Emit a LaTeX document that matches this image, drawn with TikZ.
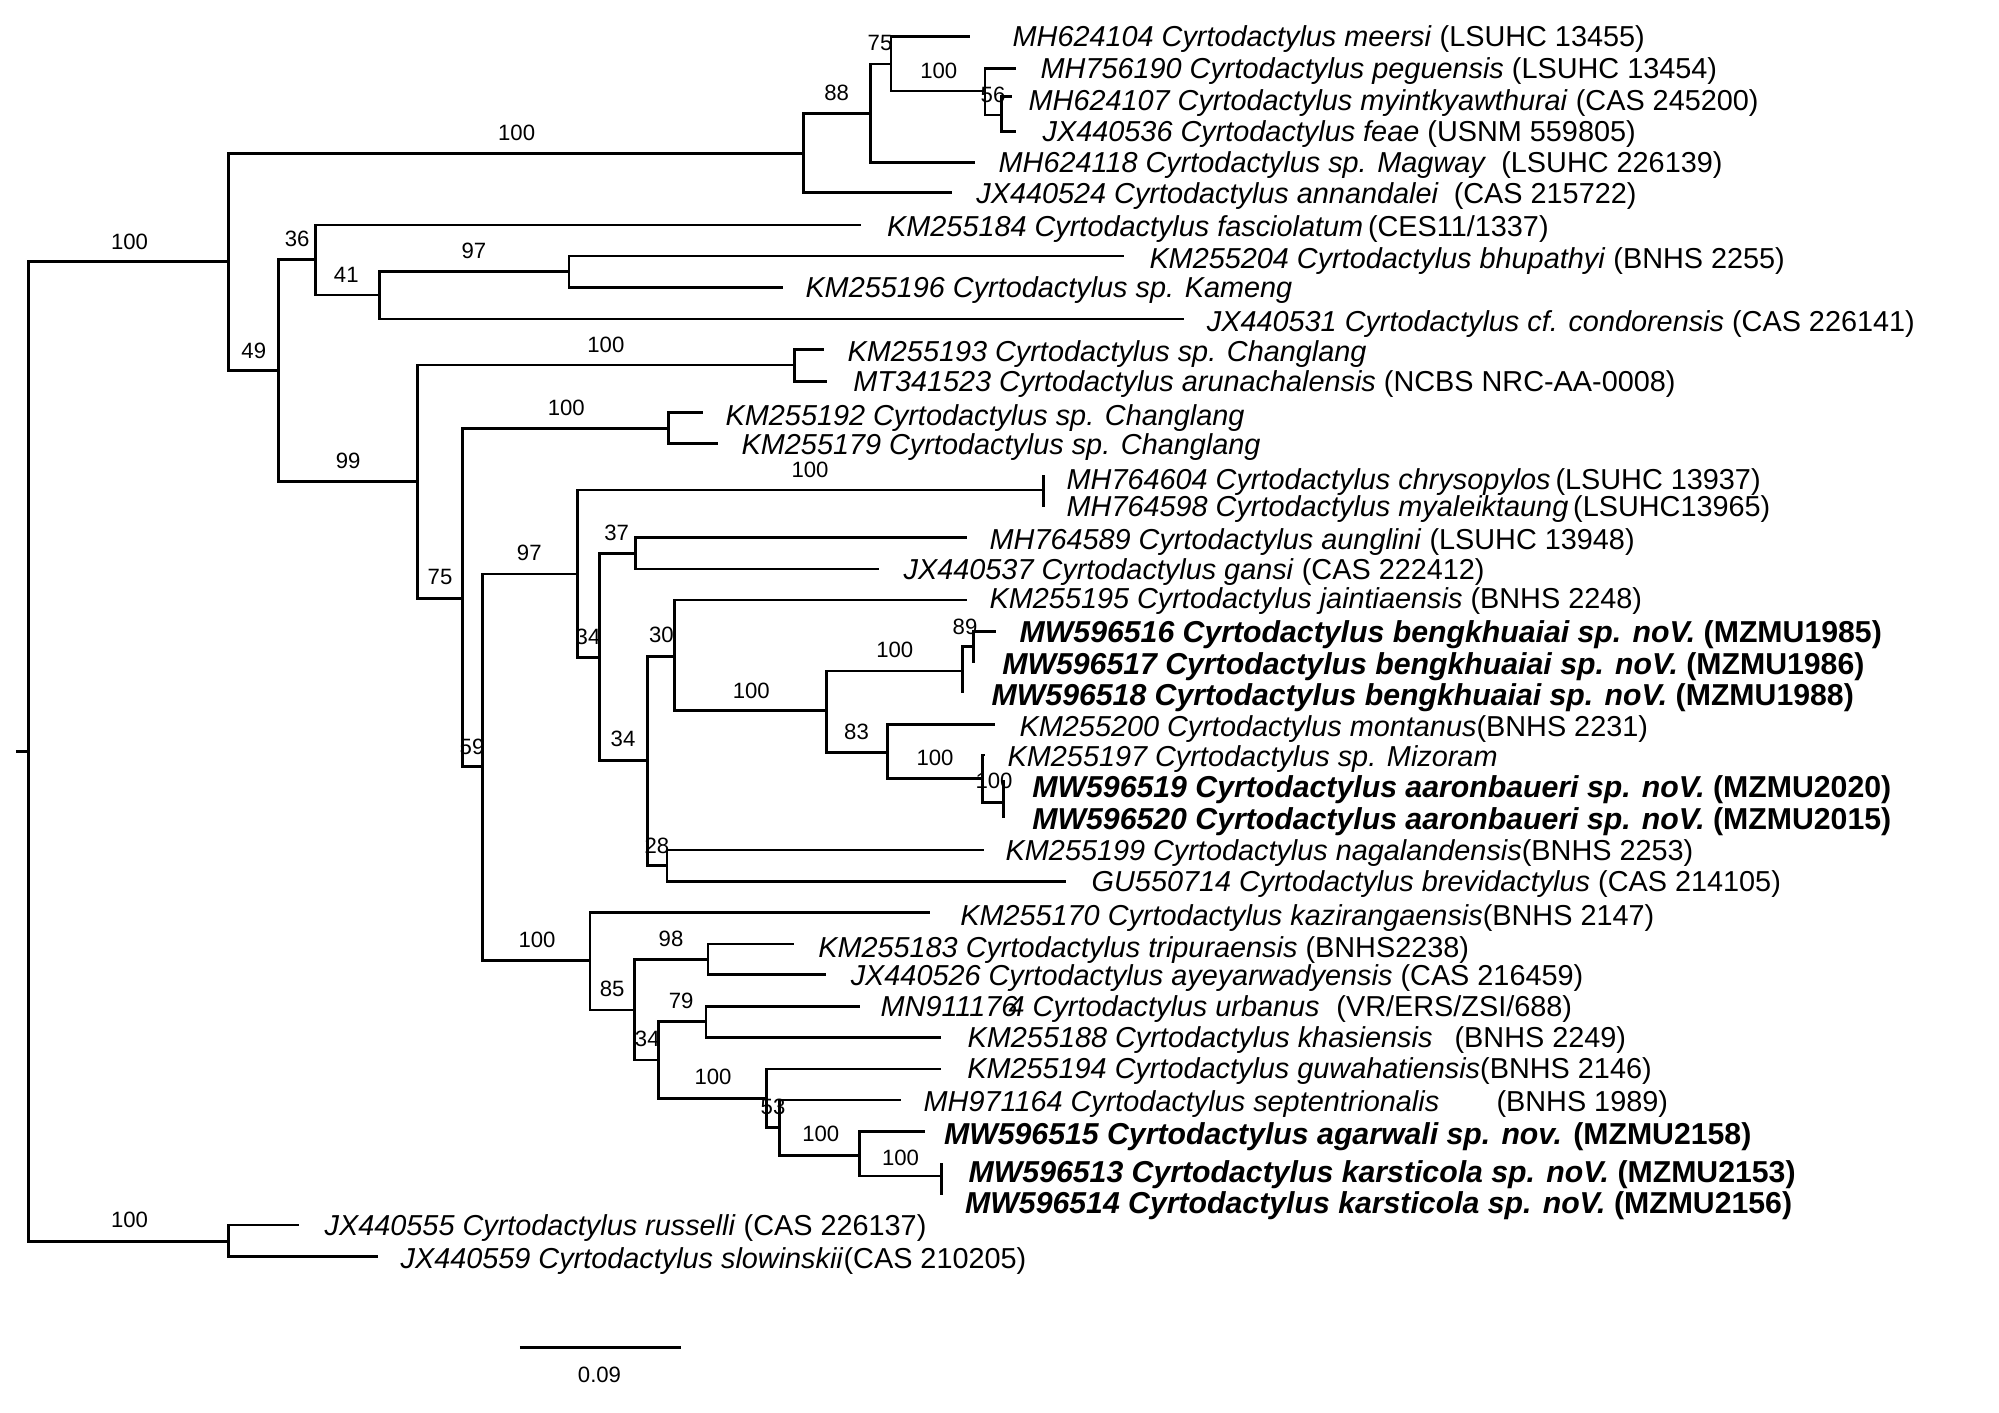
\documentclass[tikz,border=0pt]{standalone}
\usepackage{fontspec}
\setmainfont{Liberation Sans}
\tikzset{
 br/.style={line width=0.75pt},
 lab/.style={anchor=base west, inner sep=0pt, font=\fontsize{8.2}{9}\selectfont},
 blab/.style={anchor=base west, inner sep=0pt, font=\fontsize{8.6}{10}\selectfont\bfseries},
 bs/.style={inner sep=0pt, font=\fontsize{6.3}{7}\selectfont},
}
\newcommand{\spn}[2]{\textit{#1}#2}
\newcommand{\bspn}[2]{\textbf{\textit{#1}}#2}
\begin{document}
\begin{tikzpicture}[x=0.01cm, y=-0.01cm]
\fill[white] (0,0) rectangle (1999,1413);
\useasboundingbox (0,0) rectangle (1999,1413);
% internal nodes
\coordinate (rs) at (16,751.7);
\coordinate (root) at (28.7,751.7);
\coordinate (A) at (228.3,261.7);
\coordinate (OG) at (228.3,1241.7);
\coordinate (B) at (803.6,153.3);
\coordinate (C) at (870.5,113.3);
\coordinate (D) at (891,64);
\coordinate (E) at (985,91);
\coordinate (F) at (1001.6,115);
\coordinate (G) at (278.7,370.7);
\coordinate (H) at (315.7,259.3);
\coordinate (J) at (379.5,295);
\coordinate (K) at (568.9,271.7);
\coordinate (I) at (417.7,481.7);
\coordinate (L) at (794.6,365);
\coordinate (M) at (462.4,598.3);
\coordinate (N) at (668.4,428.3);
\coordinate (O) at (482.8,766.7);
\coordinate (Q) at (577.2,574);
\coordinate (Qa) at (1043.3,490);
\coordinate (R) at (599.5,657.7);
\coordinate (S) at (635.8,553.3);
\coordinate (T) at (647.3,760.7);
\coordinate (U) at (674.7,656.7);
\coordinate (W) at (826.5,710.7);
\coordinate (X) at (962.3,671);
\coordinate (Z) at (973.3,646.7);
\coordinate (Y) at (887.8,752.3);
\coordinate (AA) at (982.3,778.3);
\coordinate (AB) at (1003.3,802.7);
\coordinate (V) at (667,865.3);
\coordinate (P) at (590,960.7);
\coordinate (AC) at (634.6,1010);
\coordinate (AD) at (707.9,959.3);
\coordinate (AE) at (658.2,1060);
\coordinate (AF) at (706,1021.7);
\coordinate (AG) at (766.6,1098.3);
\coordinate (AH) at (779.3,1127.3);
\coordinate (AI) at (859.7,1155.3);
\coordinate (AJ) at (941.7,1176);
% tips
\coordinate (tp1) at (970,36.7);
\coordinate (tp2) at (1015.6,68.3);
\coordinate (tp3) at (1012,96.7);
\coordinate (tp4) at (1015.6,131.7);
\coordinate (tp5) at (974.5,162.3);
\coordinate (tp6) at (951.5,192.7);
\coordinate (tp7) at (861,225);
\coordinate (tp8) at (1124.2,256);
\coordinate (tp9) at (783.2,287.3);
\coordinate (tp10) at (1183.8,319);
\coordinate (tp11) at (824,349.3);
\coordinate (tp12) at (827,381.7);
\coordinate (tp13) at (702.8,412.3);
\coordinate (tp14) at (717.5,443.3);
\coordinate (tp15) at (1043.3,475);
\coordinate (tp16) at (1043.3,506.7);
\coordinate (tp17) at (967.3,537.7);
\coordinate (tp18) at (878.8,569);
\coordinate (tp19) at (966.6,600);
\coordinate (tp20) at (995.7,631.7);
\coordinate (tp21) at (973.3,663.3);
\coordinate (tp22) at (962.3,693.3);
\coordinate (tp23) at (994.6,724.3);
\coordinate (tp24) at (985,755);
\coordinate (tp25) at (1003.3,780);
\coordinate (tp26) at (1003.3,818.3);
\coordinate (tp27) at (983.5,850);
\coordinate (tp28) at (1066,881.7);
\coordinate (tp29) at (929.6,912.7);
\coordinate (tp30) at (794,944);
\coordinate (tp31) at (826,974.3);
\coordinate (tp32) at (859.7,1006.7);
\coordinate (tp33) at (941,1037.3);
\coordinate (tp34) at (940.7,1069);
\coordinate (tp35) at (900.5,1100);
\coordinate (tp36) at (924.7,1131.3);
\coordinate (tp37) at (941.7,1162.7);
\coordinate (tp38) at (941.7,1195);
\coordinate (tp39) at (298.5,1225);
\coordinate (tp40) at (377.6,1256.7);
% branches
\draw[br] (rs) -- (root);
\foreach \p/\c in {root/A, root/OG, A/B, A/G, B/C, B/tp6, C/D, C/tp5, D/tp1, D/E,
  E/tp2, E/F, F/tp3, F/tp4, G/H, G/I, H/tp7, H/J, J/K, J/tp10, K/tp8, K/tp9,
  I/L, I/M, L/tp11, L/tp12, M/N, M/O, N/tp13, N/tp14, O/Q, O/P, Q/Qa, Q/R,
  Qa/tp15, Qa/tp16, R/S, R/T, S/tp17, S/tp18, T/U, T/V, U/tp19, U/W, W/X, W/Y,
  X/Z, X/tp22, Z/tp20, Z/tp21, Y/tp23, Y/AA, AA/tp24, AA/AB, AB/tp25, AB/tp26,
  V/tp27, V/tp28, P/tp29, P/AC, AC/AD, AC/AE, AD/tp30, AD/tp31, AE/AF, AE/AG,
  AF/tp32, AF/tp33, AG/tp34, AG/AH, AH/tp35, AH/AI, AI/tp36, AI/AJ, AJ/tp37,
  AJ/tp38, OG/tp39, OG/tp40}
  \draw[br] (\p) |- (\c);
% support values
\node[bs] (b1) at (129.5,241.7) {100};
\node[bs] (b2) at (516.6,133.3) {100};
\node[bs] (b3) at (836.7,92.7) {88};
\node[bs] (b4) at (880,43.3) {75};
\node[bs] (b5) at (938.8,70.7) {100};
\node[bs] (b6) at (993,95) {56};
\node[bs] (b7) at (129.5,1220) {100};
\node[bs] (b8) at (253.8,350.7) {49};
\node[bs] (b9) at (297.2,239.3) {36};
\node[bs] (b10) at (346.3,275) {41};
\node[bs] (b11) at (473.9,250.7) {97};
\node[bs] (b12) at (348.2,460.7) {99};
\node[bs] (b13) at (605.9,345) {100};
\node[bs] (b14) at (440,577.3) {75};
\node[bs] (b15) at (566.3,408.3) {100};
\node[bs] (b16) at (472,746.7) {59};
\node[bs] (b17) at (529.3,553.3) {97};
\node[bs] (b18) at (810,470) {100};
\node[bs] (b19) at (588,637) {34};
\node[bs] (b20) at (616.7,532.7) {37};
\node[bs] (b21) at (623,739.3) {34};
\node[bs] (b22) at (661.4,635) {30};
\node[bs] (b23) at (751.3,691) {100};
\node[bs] (b24) at (894.8,650) {100};
\node[bs] (b25) at (965,626.7) {89};
\node[bs] (b26) at (856.5,731.7) {83};
\node[bs] (b27) at (935,758.3) {100};
\node[bs] (b28) at (994,781) {100};
\node[bs] (b29) at (656.9,845.7) {28};
\node[bs] (b30) at (537,940) {100};
\node[bs] (b31) at (612.2,989.3) {85};
\node[bs] (b32) at (671,938.7) {98};
\node[bs] (b33) at (647.3,1039.3) {34};
\node[bs] (b34) at (681.1,1001) {79};
\node[bs] (b35) at (713,1077.3) {100};
\node[bs] (b36) at (773,1106.7) {53};
\node[bs] (b37) at (820.8,1134) {100};
\node[bs] (b38) at (900.5,1157.7) {100};
% tip labels
\node[lab] (l1) at (1012,47) {\spn{MH624104 Cyrtodactylus meersi}{ (LSUHC 13455)}};
\node[lab] (l2) at (1040,78.6) {\spn{MH756190 Cyrtodactylus peguensis}{ (LSUHC 13454)}};
\node[lab] (l3) at (1028,110.3) {\spn{MH624107 Cyrtodactylus myintkyawthurai}{ (CAS 245200)}};
\node[lab] (l4) at (1042,142) {\spn{JX440536 Cyrtodactylus feae}{ (USNM 559805)}};
\node[lab] (l5) at (998,172.6) {\spn{MH624118 Cyrtodactylus sp. Magway}{\hspace{2pt} (LSUHC 226139)}};
\node[lab] (l6) at (975.7,203.6) {\spn{JX440524 Cyrtodactylus annandalei}{\hspace{2pt} (CAS 215722)}};
\node[lab] (l7) at (886.5,237) {\spn{KM255184 Cyrtodactylus fasciolatum}{\,(CES11/1337)}};
\node[lab] (l8) at (1148.8,268.6) {\spn{KM255204 Cyrtodactylus bhupathyi}{ (BNHS 2255)}};
\node[lab] (l9) at (804.8,297.6) {\spn{KM255196 Cyrtodactylus sp. Kameng}{}};
\node[lab] (l10) at (1206.2,332) {\spn{JX440531 Cyrtodactylus cf. condorensis}{ (CAS 226141)}};
\node[lab] (l11) at (847,362) {\spn{KM255193 Cyrtodactylus sp. Changlang}{}};
\node[lab] (l12) at (852.7,392) {\spn{MT341523 Cyrtodactylus arunachalensis}{ (NCBS NRC-AA-0008)}};
\node[lab] (l13) at (725,425.3) {\spn{KM255192 Cyrtodactylus sp. Changlang}{}};
\node[lab] (l14) at (741,454.3) {\spn{KM255179 Cyrtodactylus sp. Changlang}{}};
\node[lab] (l15) at (1066,489.3) {\spn{MH764604 Cyrtodactylus chrysopylos}{\,(LSUHC 13937)}};
\node[lab] (l16) at (1066,517) {\spn{MH764598 Cyrtodactylus myaleiktaung}{\,(LSUHC13965)}};
\node[lab] (l17) at (989,549.6) {\spn{MH764589 Cyrtodactylus aunglini}{ (LSUHC 13948)}};
\node[lab] (l18) at (903,579.6) {\spn{JX440537 Cyrtodactylus gansi}{ (CAS 222412)}};
\node[lab] (l19) at (989,608.6) {\spn{KM255195 Cyrtodactylus jaintiaensis}{ (BNHS 2248)}};
\node[blab] (l20) at (1019,642.5) {\bspn{MW596516 Cyrtodactylus bengkhuaiai sp. noV.}{ (MZMU1985)}};
\node[blab] (l21) at (1001.6,674.1) {\bspn{MW596517 Cyrtodactylus bengkhuaiai sp. noV.}{ (MZMU1986)}};
\node[blab] (l22) at (991,705.1) {\bspn{MW596518 Cyrtodactylus bengkhuaiai sp. noV.}{ (MZMU1988)}};
\node[lab] (l23) at (1019,737) {\spn{KM255200 Cyrtodactylus montanus}{(BNHS 2231)}};
\node[lab] (l24) at (1007,766.3) {\spn{KM255197 Cyrtodactylus sp. Mizoram}{}};
\node[blab] (l25) at (1031.7,797.5) {\bspn{MW596519 Cyrtodactylus aaronbaueri sp. noV.}{ (MZMU2020)}};
\node[blab] (l26) at (1031.7,829.1) {\bspn{MW596520 Cyrtodactylus aaronbaueri sp. noV.}{ (MZMU2015)}};
\node[lab] (l27) at (1005,860.3) {\spn{KM255199 Cyrtodactylus nagalandensis}{(BNHS 2253)}};
\node[lab] (l28) at (1091,892) {\spn{GU550714 Cyrtodactylus brevidactylus}{ (CAS 214105)}};
\node[lab] (l29) at (959.6,925.3) {\spn{KM255170 Cyrtodactylus kazirangaensis}{(BNHS 2147)}};
\node[lab] (l30) at (817.6,957.6) {\spn{KM255183 Cyrtodactylus tripuraensis}{ (BNHS2238)}};
\node[lab] (l31) at (850.1,985.3) {\spn{JX440526 Cyrtodactylus ayeyarwadyensis}{ (CAS 216459)}};
\node[lab] (l32) at (880,1017) {\spn{MN911176\kern-2.5pt 4 Cyrtodactylus urbanus}{\hspace{2.5pt} (VR/ERS/ZSI/688)}};
\node[lab] (l33) at (967,1047.6) {\spn{KM255188 Cyrtodactylus khasiensis}{\hspace{4pt} (BNHS 2249)}};
\node[lab] (l34) at (966.6,1078.6) {\spn{KM255194 Cyrtodactylus guwahatiensis}{(BNHS 2146)}};
\node[lab] (l35) at (923,1112) {\spn{MH971164 Cyrtodactylus septentrionalis}{\hspace{14pt} (BNHS 1989)}};
\node[blab] (l36) at (943.4,1144.8) {\bspn{MW596515 Cyrtodactylus agarwali sp. nov.}{ (MZMU2158)}};
\node[blab] (l37) at (968,1182.5) {\bspn{MW596513 Cyrtodactylus karsticola sp. noV.}{ (MZMU2153)}};
\node[blab] (l38) at (964.5,1213.8) {\bspn{MW596514 Cyrtodactylus karsticola sp. noV.}{ (MZMU2156)}};
\node[lab] (l39) at (324,1235.3) {\spn{JX440555 Cyrtodactylus russelli}{ (CAS 226137)}};
\node[lab] (l40) at (399.9,1268.6) {\spn{JX440559 Cyrtodactylus slowinskii}{(CAS 210205)}};
% scale bar
\coordinate (sb1) at (519.8,1347.7);
\coordinate (sb2) at (681.1,1347.7);
\draw[br] (sb1) -- (sb2);
\node[bs] (sbl) at (599.5,1375) {0.09};
\end{tikzpicture}
\end{document}
